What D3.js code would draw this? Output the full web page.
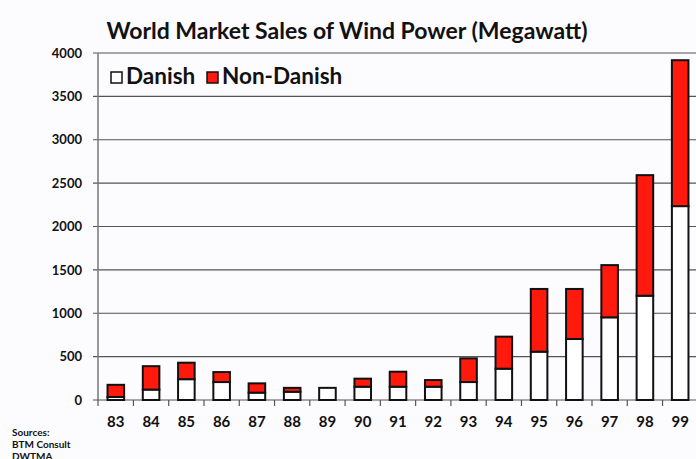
<!doctype html>
<html>
<head>
  <meta charset="utf-8">
  <title>World Market Sales of Wind Power</title>
  <style>
    body {
      margin: 0;
      background: #fcfbfd;
    }
    svg text {
      font-family: "Lato", "Open Sans", sans-serif;
      font-weight: bold;
      fill: #111;
    }
  </style>
</head>
<body>
  <div id="vis"></div>

  <script src="https://cdn.jsdelivr.net/npm/d3@7/dist/d3.min.js"></script>
  <script>

    // values, megawatt
    var years = ["83", "84", "85", "86", "87", "88", "89", "90", "91",
                 "92", "93", "94", "95", "96", "97", "98", "99"];
    var danish = [35, 120, 240, 207, 85, 95, 140, 153, 153,
                  153, 207, 361, 557, 703, 953, 1202, 2235];
    var nonDanish = [140, 270, 190, 115, 107, 45, 0, 93, 173,
                     77, 273, 369, 723, 577, 602, 1390, 1682];
    var yTicks = [0, 500, 1000, 1500, 2000, 2500, 3000, 3500, 4000];
    var sources = ["Sources:", "BTM Consult", "DWTMA"];

    var W = 696, H = 459;
    var plotLeft = 98, plotRight = 698, plotTop = 53, plotBottom = 400;

    var svg = d3.select("#vis").append("svg")
                .attr("width", W)
                .attr("height", H);

    var x = d3.scaleBand()
              .domain(years)
              .range([plotLeft, plotRight])
              .paddingInner(0.53)
              .paddingOuter(0.27);

    var y = d3.scaleLinear()
              .domain([0, 4000])
              .range([plotBottom, plotTop]);

    // gridlines
    svg.append("g")
       .selectAll("line")
       .data(yTicks.filter(function(d){ return d > 0; }))
       .enter()
       .append("line")
       .attr("x1", plotLeft - 5)
       .attr("x2", W)
       .attr("y1", function(d){ return y(d); })
       .attr("y2", function(d){ return y(d); })
       .attr("stroke", "#555")
       .attr("stroke-width", 1.2);

    // y axis
    var yAxis = d3.axisLeft(y)
                  .tickValues(yTicks)
                  .tickSize(0)
                  .tickPadding(16)
                  .tickFormat(d3.format("d"));

    var gy = svg.append("g")
                .attr("transform", "translate(" + plotLeft + ",0)")
                .call(yAxis);
    gy.select(".domain").remove();
    gy.selectAll("text").style("font-size", "13px");

    svg.append("line")
       .attr("x1", plotLeft).attr("x2", plotLeft)
       .attr("y1", plotTop).attr("y2", plotBottom + 6)
       .attr("stroke", "#777")
       .attr("stroke-width", 1.5);

    // x axis with ticks between categories
    svg.append("line")
       .attr("x1", plotLeft - 5).attr("x2", W)
       .attr("y1", plotBottom).attr("y2", plotBottom)
       .attr("stroke", "#555")
       .attr("stroke-width", 1.2);

    var step = x.step();
    svg.append("g")
       .selectAll("line")
       .data(years)
       .enter()
       .append("line")
       .attr("x1", function(d){ return x(d) + x.bandwidth() / 2 + step / 2; })
       .attr("x2", function(d){ return x(d) + x.bandwidth() / 2 + step / 2; })
       .attr("y1", plotBottom)
       .attr("y2", plotBottom + 6)
       .attr("stroke", "#555")
       .attr("stroke-width", 1.2);

    svg.append("g")
       .selectAll("text")
       .data(years)
       .enter()
       .append("text")
       .attr("x", function(d){ return x(d) + x.bandwidth() / 2; })
       .attr("y", plotBottom + 27)
       .attr("text-anchor", "middle")
       .style("font-size", "15px")
       .text(function(d){ return d; });

    // stacked bars
    var rows = years.map(function(d, i){
      return { year: d, danish: danish[i], nonDanish: nonDanish[i] };
    });
    var stack = d3.stack().keys(["danish", "nonDanish"]);
    var colors = { danish: "#ffffff", nonDanish: "#ff1a0d" };

    svg.selectAll("g.series")
       .data(stack(rows))
       .enter()
       .append("g")
       .attr("class", "series")
       .attr("fill", function(s){ return colors[s.key]; })
       .selectAll("rect")
       .data(function(s){ return s.filter(function(d){ return d[1] > d[0]; }); })
       .enter()
       .append("rect")
       .attr("x", function(d){ return x(d.data.year); })
       .attr("y", function(d){ return y(d[1]); })
       .attr("width", x.bandwidth())
       .attr("height", function(d){ return y(d[0]) - y(d[1]); })
       .attr("stroke", "#111")
       .attr("stroke-width", 2);

    // title
    svg.append("text")
       .attr("x", 347)
       .attr("y", 39)
       .attr("text-anchor", "middle")
       .style("font-size", "23px")
       .text("World Market Sales of Wind Power (Megawatt)");

    // legend
    var legend = [
      { label: "Danish", color: colors.danish, x: 111 },
      { label: "Non-Danish", color: colors.nonDanish, x: 207 }
    ];
    var lg = svg.append("g")
                .selectAll("g")
                .data(legend)
                .enter()
                .append("g")
                .attr("transform", function(d){ return "translate(" + d.x + ",72)"; });
    lg.append("rect")
      .attr("width", 11)
      .attr("height", 11)
      .attr("fill", function(d){ return d.color; })
      .attr("stroke", "#111")
      .attr("stroke-width", 1.5);
    lg.append("text")
      .attr("x", 15)
      .attr("y", 12)
      .style("font-size", "22.5px")
      .text(function(d){ return d.label; });

    // sources
    svg.append("g")
       .selectAll("text")
       .data(sources)
       .enter()
       .append("text")
       .attr("x", 12)
       .attr("y", function(d, i){ return 436 + i * 12; })
       .style("font-size", "10px")
       .text(function(d){ return d; });

  </script>
</body>
</html>
